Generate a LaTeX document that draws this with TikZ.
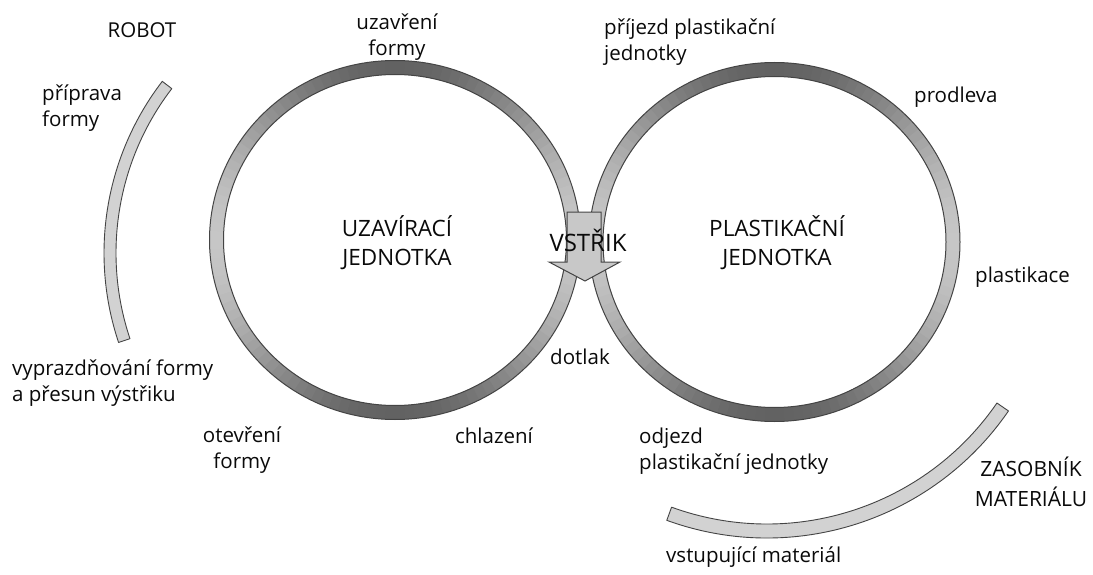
\documentclass[tikz,border=0pt]{standalone}
\usepackage{fontspec}
\setmainfont{Open Sans}
\usetikzlibrary{calc}
\definecolor{ringdark}{HTML}{626262}
\definecolor{ringlight}{HTML}{C6C6C6}
\definecolor{edgecol}{HTML}{444444}
\definecolor{bandfill}{HTML}{D2D2D2}
\definecolor{arrowfill}{HTML}{C8C8C8}
\definecolor{txt}{HTML}{0A0A0A}
\begin{document}
\begin{tikzpicture}[x=1pt,y=-1pt,
  lbl/.style={font=\fontsize{20.5}{26.5}\selectfont, text=txt, inner sep=0pt, align=left},
  lblc/.style={lbl, align=center},
  caplbl/.style={font=\fontsize{21}{30}\selectfont, text=txt, inner sep=0pt, align=center},
  unitlbl/.style={font=\fontsize{22.5}{29}\selectfont, text=txt, inner sep=0pt, align=center},
  bigl/.style={font=\fontsize{24}{28}\selectfont, text=txt, inner sep=0pt},
  edgeline/.style={draw=edgecol, line width=1pt},
  band/.style={fill=bandfill, draw=edgecol, line width=0.9pt, line join=round}]
\useasboundingbox[fill=white] (0,0) rectangle (1093,575);
\coordinate (L) at (395,240);
\coordinate (R) at (774.5,242);
\coordinate (RC) at (386,253);
\coordinate (MC) at (767,245);
% gradient rings
\foreach \cx/\cy in {395/240, 774.5/242}{
  \foreach \a in {0,3,...,357}{
    \pgfmathsetmacro\mixv{100*sin(\a+1.5)^2}
    \draw[line width=14pt, draw=ringdark!\mixv!ringlight]
      ($(\cx,\cy)+(\a:178.5 and 172.5)$) arc[start angle=\a, end angle=\a+3.4, x radius=178.5, y radius=172.5];
  }
}
\draw[edgeline] (L) ellipse[x radius=185.5, y radius=179.5];
\draw[edgeline] (L) ellipse[x radius=171.5, y radius=165.5];
\draw[edgeline] (R) ellipse[x radius=185.5, y radius=179.5];
\draw[edgeline] (R) ellipse[x radius=171.5, y radius=165.5];
% robot arc
\path[band] ($(RC)+(161.5:282)$) arc[start angle=161.5, end angle=217.5, radius=282]
  -- ($(RC)+(217.5:270)$) arc[start angle=217.5, end angle=161.5, radius=270] -- cycle;
% material arc
\path[band] ($(MC)+(34.5:293)$) arc[start angle=34.5, end angle=110, radius=293]
  -- ($(MC)+(110:279)$) arc[start angle=110, end angle=34.5, radius=279] -- cycle;
% injection arrow
\draw[fill=arrowfill, draw=edgecol, line width=1pt, line join=miter]
  (567,212) -- (601,212) -- (601,262) -- (620,262) -- (585,281) -- (549,262) -- (567,262) -- cycle;
% labels
\node[lbl] (robot) at (142,30) {ROBOT};
\node[lbl, anchor=west] (priprava) at (42,108) {příprava\\formy};
\node[lbl, anchor=west] (vyprazd) at (12,383) {vyprazdňování formy\\a přesun výstřiku};
\node[lblc] (otevreni) at (242,450) {otevření\\formy};
\node[lbl] (chlazeni) at (494,436) {chlazení};
\node[lbl] (dotlak) at (580,357) {dotlak};
\node[lblc] (uzavreni) at (397,37) {uzavření\\formy};
\node[lbl, anchor=west] (prijezd) at (604,42) {příjezd plastikační\\jednotky};
\node[lbl, anchor=west] (prodleva) at (914,97) {prodleva};
\node[lbl, anchor=west] (plastikace) at (975,277) {plastikace};
\node[lbl, anchor=west] (odjezd) at (639,451) {odjezd\\plastikační jednotky};
\node[caplbl] (zasobnik) at (1031,482) {ZASOBNÍK\\MATERIÁLU};
\node[lbl, anchor=west] (vstupujici) at (666,557) {vstupující materiál};
\node[unitlbl] (uzavjed) at (397,243) {UZAVÍRACÍ\\JEDNOTKA};
\node[unitlbl] (plastjed) at (777,243) {PLASTIKAČNÍ\\JEDNOTKA};
\node[bigl] (vstrik) at (588,240) {VSTŘIK};
\end{tikzpicture}
\end{document}
